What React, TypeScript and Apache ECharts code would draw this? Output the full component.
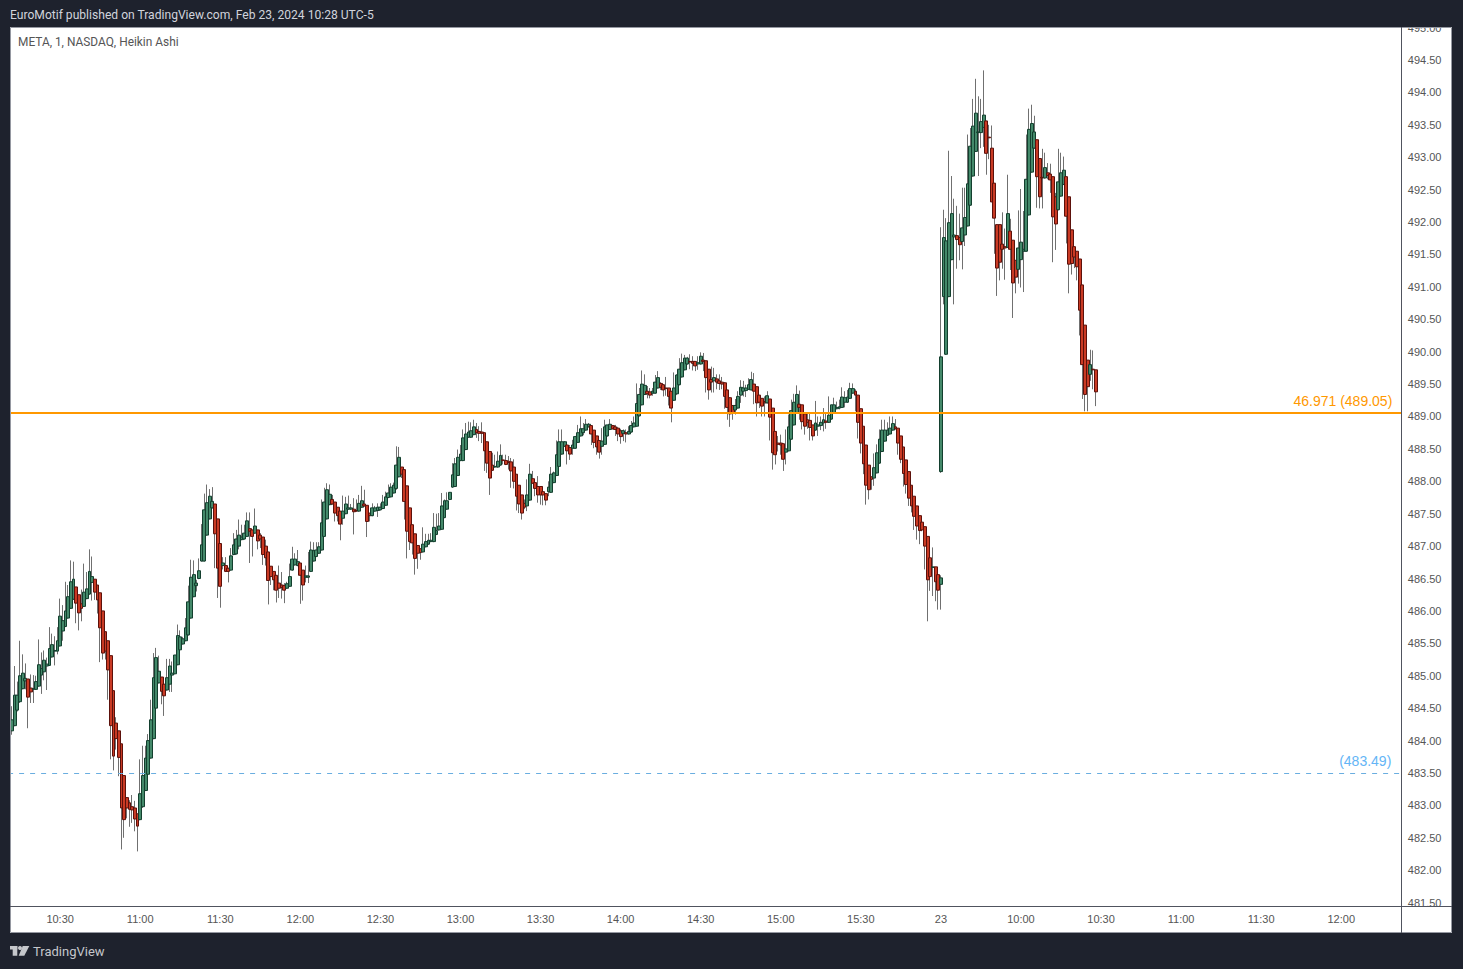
import React, { useEffect, useRef } from "react";
import * as echarts from "echarts";

// Each bar: [open, close, low, high]
const morningBars = [
[484.07,484.23,484.02,484.23],[484.15,484.32,484.09,484.53],[484.23,484.70,484.22,485.15],[484.47,484.70,484.45,484.91],[484.60,485.00,484.58,485.54],
[484.80,485.04,484.79,485.33],[484.92,484.96,484.79,485.19],[484.95,484.67,484.19,484.95],[484.81,484.75,484.58,485.02],[484.79,484.80,484.58,485.01],
[484.79,484.91,484.78,485.00],[484.84,485.17,484.83,485.56],[485.01,485.11,484.72,485.36],[485.06,485.24,484.93,485.39],[485.15,485.18,484.78,485.28],
[485.16,485.42,485.15,485.75],[485.29,485.48,485.28,485.65],[485.38,485.39,485.16,485.61],[485.38,485.54,485.33,485.75],[485.46,485.92,485.45,486.19],
[485.69,485.85,485.54,486.09],[485.76,486.00,485.75,486.45],[485.89,486.22,485.88,486.40],[486.04,486.45,486.03,486.78],[486.18,486.49,486.17,486.76],
[486.37,486.12,485.81,486.37],[486.25,485.97,485.70,486.25],[486.11,486.04,485.84,486.33],[486.07,486.29,486.06,486.73],[486.19,486.34,486.18,486.60],
[486.26,486.61,486.25,486.95],[486.44,486.53,486.16,486.84],[486.49,486.29,486.17,486.49],[486.40,486.17,485.96,486.40],[486.28,485.74,485.21,486.28],
[486.00,485.35,485.25,486.00],[485.68,485.38,485.25,485.68],[485.54,485.09,484.63,485.54],[485.31,484.23,483.71,485.31],[484.77,483.76,483.54,484.77],
[484.27,484.03,483.86,484.36],[484.15,483.74,483.45,484.15],[483.95,482.96,482.32,483.95],[483.46,482.78,482.50,483.46],[483.12,482.96,482.80,483.12],
[483.04,482.94,482.67,483.08],[482.98,482.93,482.73,483.16],[482.96,482.79,482.60,483.07],[482.87,482.68,482.29,482.87],[482.78,483.18,482.77,483.71],
[482.98,483.46,482.96,483.92],[483.23,483.73,483.22,483.92],[483.48,484.00,483.47,484.10],[483.73,484.32,483.72,484.63],[484.03,484.97,484.02,485.35],
[484.50,485.28,484.49,485.43],[484.89,485.07,484.88,485.31],[484.98,484.76,484.56,484.98],[484.87,484.69,484.38,484.87],[484.78,484.97,484.77,485.26],
[484.87,485.15,484.75,485.26],[485.01,485.04,484.75,485.22],[485.03,485.32,485.02,485.32],[485.17,485.62,485.16,485.79],[485.40,485.60,485.39,485.70],
[485.49,485.57,485.48,485.60],[485.54,485.74,485.53,485.89],[485.63,486.14,485.62,486.39],[485.89,486.52,485.88,486.79],[486.22,486.56,486.21,486.78],
[486.39,486.43,486.30,486.48],[486.50,486.62,486.49,486.81],[486.77,487.02,486.76,487.34],[486.77,487.56,486.76,487.81],[487.17,487.67,487.16,487.95],
[487.42,487.77,487.41,487.88],[487.59,487.69,487.58,487.91],[487.65,487.19,486.66,487.65],[487.42,486.66,486.20,487.42],[487.04,486.38,486.05,487.04],
[486.70,486.74,486.64,486.83],[486.70,486.61,486.60,486.83],[486.66,486.61,486.44,486.66],[486.63,486.85,486.62,486.97],[486.87,487.02,486.86,487.20],
[486.88,487.11,486.87,487.25],[487.00,487.17,486.95,487.41],[487.10,487.14,487.09,487.33],[487.11,487.20,487.10,487.33],[487.15,487.39,487.14,487.52],
[487.27,487.23,486.74,487.52],[487.25,487.15,486.84,487.25],[487.20,487.31,487.19,487.58],[487.25,487.08,486.95,487.25],[487.17,487.11,486.97,487.20],
[487.14,486.87,486.71,487.14],[487.00,486.82,486.70,487.10],[486.91,486.47,486.10,486.91],[486.69,486.53,486.40,486.69],[486.61,486.48,486.32,486.61],
];

const middayBars = [
[486.55,486.32,486.13,486.55],[486.43,486.35,486.20,486.70],[486.40,486.36,486.19,486.60],[486.39,486.32,486.12,486.43],[486.35,486.42,486.34,486.45],
[486.38,486.53,486.37,486.73],[486.63,486.80,486.62,486.99],[486.71,486.80,486.70,486.89],[486.70,486.76,486.69,486.94],[486.74,486.55,486.11,486.74],
[486.63,486.40,486.16,486.63],[486.52,486.54,486.44,486.70],[486.52,486.54,486.43,486.91],[486.61,486.94,486.60,487.07],[486.77,486.93,486.76,487.06],
[486.84,486.94,486.83,487.06],[486.89,486.99,486.88,487.06],[486.94,487.36,486.93,487.72],[487.15,487.68,487.14,487.90],[487.42,487.87,487.41,487.97],
[487.64,487.80,487.63,487.95],[487.72,487.65,487.64,487.79],[487.68,487.51,487.38,487.68],[487.60,487.47,487.38,487.60],[487.54,487.34,487.09,487.54],
[487.43,487.54,487.33,487.78],[487.50,487.65,487.49,487.76],[487.57,487.59,487.56,487.78],[487.57,487.59,487.56,487.65],[487.57,487.53,487.18,487.74],
[487.55,487.54,487.53,487.72],[487.54,487.66,487.53,487.79],[487.60,487.70,487.59,487.93],[487.65,487.62,487.61,487.87],[487.63,487.38,487.14,487.63],
[487.51,487.47,487.38,487.51],[487.47,487.59,487.46,487.66],[487.54,487.59,487.53,487.62],[487.55,487.60,487.45,487.66],[487.56,487.60,487.55,487.66],
[487.58,487.68,487.57,487.79],[487.63,487.76,487.62,487.84],[487.75,487.82,487.74,487.95],[487.76,487.91,487.75,487.97],[487.82,487.94,487.81,487.98],
[487.89,488.25,487.87,488.54],[488.07,488.37,488.06,488.53],[488.22,488.11,488.05,488.22],[488.18,487.69,487.41,488.18],[487.93,487.23,486.81,487.93],
[487.59,487.07,486.94,487.59],[487.33,487.05,486.87,487.33],[487.19,486.81,486.56,487.19],[487.01,486.89,486.65,487.01],[486.96,486.90,486.79,486.96],
[486.91,487.03,486.90,487.29],[486.99,487.07,486.98,487.19],[487.03,487.09,487.02,487.19],[487.07,487.09,487.06,487.20],[487.07,487.29,487.06,487.51],
[487.18,487.24,487.17,487.50],[487.25,487.31,487.24,487.51],[487.26,487.62,487.25,487.82],[487.44,487.70,487.43,487.72],[487.57,487.70,487.56,487.83],
[487.72,487.83,487.71,487.83],[487.91,488.10,487.90,488.28],[487.92,488.27,487.91,488.36],[488.09,488.37,488.08,488.49],[488.32,488.42,488.31,488.56],
[488.32,488.67,488.31,488.80],[488.49,488.73,488.48,488.90],[488.68,488.76,488.67,488.92],[488.68,488.78,488.67,488.91],[488.72,488.84,488.71,488.95],
[488.80,488.75,488.67,488.90],[488.77,488.74,488.62,488.85],[488.76,488.74,488.59,488.91],[488.75,488.47,488.16,488.75],[488.61,488.28,488.13,488.61],
[488.46,488.05,487.79,488.46],[488.25,488.17,488.16,488.44],[488.22,488.23,488.21,488.41],[488.22,488.31,488.21,488.46],[488.25,488.40,488.24,488.57],
[488.33,488.32,488.26,488.41],[488.32,488.26,488.25,488.41],[488.31,488.29,488.18,488.39],[488.30,488.16,487.90,488.36],[488.22,488.00,487.89,488.34],
[488.11,487.77,487.55,488.11],[487.94,487.65,487.51,487.94],[487.79,487.51,487.41,487.79],[487.66,487.60,487.57,487.72],[487.62,487.79,487.54,488.03],
[487.71,488.11,487.70,488.27],[488.04,487.97,487.96,488.16],[487.98,487.89,487.77,487.98],[487.92,487.79,487.67,488.08],[487.92,487.79,487.64,487.92],
];

const afternoonBars = [
[487.84,487.79,487.63,487.92],[487.81,487.71,487.63,487.81],[487.84,487.91,487.77,488.00],[487.83,488.11,487.82,488.22],[487.98,488.13,487.97,488.15],
[488.09,488.41,488.08,488.63],[488.23,488.61,488.22,488.80],[488.42,488.61,488.41,488.80],[488.54,488.61,488.53,488.62],[488.56,488.47,488.26,488.61],
[488.52,488.42,488.33,488.56],[488.51,488.56,488.41,488.64],[488.51,488.69,488.50,488.70],[488.60,488.75,488.59,488.87],[488.70,488.81,488.69,489.00],
[488.75,488.81,488.71,488.90],[488.79,488.88,488.78,488.96],[488.84,488.88,488.83,488.90],[488.86,488.73,488.56,488.86],[488.79,488.60,488.51,488.79],
[488.70,488.53,488.41,488.70],[488.63,488.45,488.35,488.63],[488.54,488.62,488.41,488.82],[488.57,488.84,488.56,488.95],[488.70,488.87,488.69,488.87],
[488.80,488.88,488.79,488.96],[488.86,488.81,488.80,488.87],[488.84,488.80,488.70,488.87],[488.82,488.73,488.62,488.84],[488.78,488.69,488.58,488.81],
[488.74,488.78,488.62,488.80],[488.75,488.73,488.60,488.80],[488.73,488.77,488.72,488.85],[488.76,488.86,488.75,488.93],[488.84,488.90,488.83,489.00],
[488.85,489.20,488.84,489.51],[489.01,489.34,489.00,489.44],[489.18,489.50,489.17,489.71],[489.34,489.48,489.33,489.65],[489.39,489.35,489.28,489.47],
[489.38,489.33,489.28,489.44],[489.36,489.39,489.32,489.44],[489.36,489.53,489.35,489.64],[489.44,489.60,489.43,489.70],[489.51,489.45,489.41,489.53],
[489.49,489.41,489.31,489.50],[489.44,489.43,489.32,489.61],[489.44,489.31,489.17,489.44],[489.39,489.13,488.91,489.39],[489.25,489.44,489.24,489.68],
[489.35,489.64,489.33,489.65],[489.49,489.73,489.48,489.90],[489.61,489.83,489.60,489.97],[489.72,489.90,489.71,489.95],[489.81,489.90,489.80,489.92],
[489.85,489.84,489.73,489.96],[489.85,489.82,489.71,489.93],[489.85,489.78,489.70,489.85],[489.81,489.83,489.72,489.93],[489.81,489.93,489.80,489.99],
[489.87,489.85,489.70,489.98],[489.86,489.60,489.37,489.86],[489.73,489.41,489.26,489.73],[489.57,489.53,489.37,489.77],[489.55,489.60,489.37,489.75],
[489.58,489.53,489.42,489.65],[489.55,489.51,489.41,489.65],[489.53,489.50,489.42,489.61],[489.52,489.31,489.12,489.53],[489.41,489.14,488.95,489.41],
[489.29,489.04,488.84,489.29],[489.17,489.05,488.95,489.17],[489.10,489.17,489.03,489.27],[489.13,489.31,489.12,489.39],[489.33,489.45,489.21,489.56],
[489.39,489.44,489.31,489.55],[489.40,489.44,489.30,489.49],[489.42,489.49,489.41,489.59],[489.41,489.57,489.40,489.69],[489.50,489.39,489.19,489.67],
[489.46,489.21,489.00,489.46],[489.33,489.22,489.13,489.33],[489.28,489.16,489.00,489.28],[489.23,489.21,489.00,489.31],[489.21,489.32,489.20,489.39],
[489.27,488.99,488.63,489.27],[489.13,488.44,488.18,489.13],[488.77,488.41,488.26,488.77],[488.59,488.57,488.46,488.70],[488.59,488.56,488.41,488.72],
[488.58,488.34,488.16,488.58],[488.45,488.50,488.26,488.80],[488.47,488.84,488.46,489.03],[488.65,489.09,488.64,489.26],[488.87,489.22,488.86,489.35],
[489.05,489.34,489.04,489.48],[489.19,489.14,488.95,489.40],[489.18,488.92,488.80,489.18],[489.04,488.85,488.72,489.04],[488.95,488.91,488.81,489.05],
];

const closingBars = [
[488.94,488.83,488.63,489.05],[488.87,488.70,488.63,488.87],[488.79,488.90,488.78,489.24],[488.85,488.87,488.70,489.00],[488.86,488.91,488.79,489.00],
[488.90,488.95,488.77,489.13],[488.93,488.91,488.81,489.04],[488.91,489.02,488.90,489.31],[488.96,489.18,488.95,489.18],[489.05,489.18,489.04,489.29],
[489.12,489.14,489.11,489.23],[489.13,489.15,489.11,489.26],[489.14,489.30,489.13,489.45],[489.22,489.29,489.14,489.39],[489.22,489.30,489.21,489.41],
[489.28,489.43,489.27,489.52],[489.36,489.43,489.35,489.51],[489.39,489.33,489.08,489.42],[489.33,488.91,488.66,489.33],[489.12,488.59,488.43,489.12],
[488.85,488.27,488.11,488.85],[488.56,487.94,487.64,488.56],[488.25,487.87,487.72,488.25],[488.07,488.03,487.87,488.07],[488.05,488.21,487.93,488.43],
[488.13,488.44,488.12,488.57],[488.28,488.65,488.27,488.80],[488.46,488.79,488.45,488.95],[488.62,488.79,488.61,488.95],[488.71,488.79,488.70,488.91],
[488.73,488.82,488.72,489.00],[488.79,488.89,488.78,489.00],[488.84,488.81,488.80,488.96],[488.82,488.59,488.41,488.82],[488.70,488.34,488.28,488.70],
[488.53,488.12,487.92,488.53],[488.33,487.95,487.81,488.33],[488.15,487.74,487.62,488.15],[487.94,487.62,487.52,487.94],[487.77,487.46,487.25,487.77],
[487.62,487.31,487.10,487.62],[487.47,487.24,487.03,487.47],[487.37,487.25,487.23,487.38],[487.30,487.00,486.64,487.30],[487.15,486.48,485.84,487.15],
[486.82,486.53,486.31,486.98],[486.67,486.68,486.23,486.98],[486.68,486.45,486.15,486.68],[486.56,486.32,486.02,486.61],
];

const nextDayBars = [
[488.15,489.92,488.13,491.92],[490.85,491.76,490.73,492.19],[489.96,491.71,489.95,492.06],[490.85,491.99,490.84,493.10],[491.42,492.13,491.41,492.71],
[491.77,491.80,490.73,492.36],[491.79,491.73,491.28,492.25],[491.76,491.65,491.41,492.13],[491.70,491.91,491.27,492.53],[491.80,492.07,491.63,492.53],
[491.94,492.59,491.93,493.35],[492.26,493.17,492.25,493.45],[492.71,493.48,492.70,493.90],[493.09,493.68,493.08,494.21],[493.38,493.39,492.71,493.94],
[493.38,493.55,493.14,493.90],[493.46,493.65,493.16,494.34],[493.56,493.06,492.73,493.56],[493.31,493.30,492.97,493.50],[493.14,492.31,492.31,493.49],
[492.60,492.06,491.51,492.60],[491.96,491.29,490.86,491.96],[491.96,491.38,491.10,491.96],[491.66,491.58,491.28,492.15],[491.62,491.60,491.11,491.90],
[491.61,492.13,491.60,492.73],[491.86,491.58,491.26,492.05],[491.72,491.06,490.52,491.72],[491.41,491.15,490.90,491.41],[491.27,491.60,491.05,492.18],
[491.42,491.69,490.99,492.51],[491.55,491.58,490.92,492.17],[491.55,492.66,491.54,493.35],[492.11,493.43,492.10,493.75],[492.77,493.52,492.76,493.81],
[493.14,493.39,493.13,493.64],[493.27,492.70,492.22,493.27],[492.98,492.39,492.21,492.98],[492.69,492.68,492.21,493.13],[492.68,492.84,492.67,493.07],
[492.76,492.72,492.66,492.91],[492.74,492.65,492.45,492.90],[492.70,492.08,491.38,492.70],[492.39,491.97,491.57,492.45],[492.19,492.62,492.18,493.13],
[492.40,492.76,492.39,493.07],[492.58,492.80,492.57,493.01],[492.70,492.09,491.67,492.70],[492.39,491.35,490.90,492.39],[491.88,491.36,491.19,491.88],
[491.62,491.46,491.29,491.62],[491.55,491.31,491.10,491.55],[491.43,490.64,490.25,491.43],[491.03,489.80,489.27,491.03],[490.41,489.34,489.08,490.41],
[489.87,489.46,489.08,489.87],[489.65,489.80,489.55,490.03],[489.73,489.72,489.42,490.02],[489.72,489.38,489.16,489.72],
];

const lastCloseBar = [486.41, 486.51, 486.02, 486.55];

const yTicks = [481.5, 495, 0.5];
const timeLabels = ["10:30","11:00","11:30","12:00","12:30","13:00","13:30","14:00","14:30","15:00","15:30"];
const laterLabels = ["10:00","10:30","11:00","11:30","12:00"];
const sessionOneStart = [10, 11];
const sessionOneCount = 349;
const sessionTwoStart = [9, 30];
const totalSlots = 522;
const orangeLevel = 489.05;
const blueLevel = 483.49;

const BG = "#1e222d";

function fmt(h: number, m: number) {
  return `${h}:${String(m).padStart(2, "0")}`;
}

export default function App() {
  const ref = useRef<HTMLDivElement>(null);

  useEffect(() => {
    document.body.style.margin = "0";
    const chart = echarts.init(ref.current!, undefined, { renderer: "svg" });

    const bars = [...morningBars, ...middayBars, ...afternoonBars, ...closingBars, ...nextDayBars];
    const categories: string[] = [];
    const shown = new Set<number>();
    for (let i = 0; i < totalSlots; i++) {
      if (i < sessionOneCount) {
        const t = sessionOneStart[0] * 60 + sessionOneStart[1] + i;
        const s = fmt(Math.floor(t / 60), t % 60);
        categories.push(s);
        if (timeLabels.includes(s)) shown.add(i);
      } else if (i === sessionOneCount) {
        categories.push("23");
        shown.add(i);
      } else {
        const t = sessionTwoStart[0] * 60 + sessionTwoStart[1] + (i - sessionOneCount);
        const s = fmt(Math.floor(t / 60), t % 60);
        categories.push(s);
        if (laterLabels.includes(s)) shown.add(i);
      }
    }

    const bodies = bars.map(([o, c]) => [o, c, Math.min(o, c), Math.max(o, c)]);
    const wickColor = "#707070";
    const upFill = "#44896a";
    const upEdge = "#133f2e";
    const downFill = "#c93a24";
    const downEdge = "#5c110b";
    const pointEncode = { x: 0, y: [1, 2, 3, 4] };

    const option: any = {
      animation: false,
      backgroundColor: BG,
      grid: { left: 8.1, top: 27.6, width: 1393.2, height: 875, containLabel: false },
      xAxis: {
        type: "category",
        data: categories,
        boundaryGap: true,
        z: 5,
        axisLine: { show: false },
        axisTick: { show: false },
        splitLine: { show: false },
        axisLabel: {
          interval: (i: number) => shown.has(i),
          color: "#555555",
          fontSize: 11,
          fontFamily: "Liberation Sans",
          margin: 11,
          hideOverlap: false,
        },
      },
      yAxis: {
        type: "value",
        position: "right",
        min: yTicks[0],
        max: yTicks[1],
        interval: yTicks[2],
        z: 5,
        axisLine: { show: false },
        axisTick: { show: false },
        splitLine: { show: false },
        axisLabel: {
          color: "#555555",
          fontSize: 11,
          fontFamily: "Liberation Sans",
          margin: 6.5,
          formatter: (v: number) => v.toFixed(2),
        },
      },
      graphic: [
        { type: "rect", z: -10, silent: true, shape: { x: 10, y: 27, width: 1442, height: 906 }, style: { fill: "#ffffff" } },
        { type: "rect", z: 100, silent: true, shape: { x: 0, y: 0, width: 1463, height: 27 }, style: { fill: BG } },
        { type: "rect", z: 100, silent: true, shape: { x: 0, y: 0, width: 10, height: 969 }, style: { fill: BG } },
        { type: "rect", z: 100, silent: true, shape: { x: 1402, y: 906.5, width: 50, height: 26 }, style: { fill: "#ffffff" } },
        { type: "rect", z: 101, silent: true, shape: { x: 10.5, y: 27.5, width: 1441, height: 905 }, style: { fill: "none", stroke: "#9598a1", lineWidth: 1 } },
        { type: "line", z: 101, silent: true, shape: { x1: 1401.5, y1: 27, x2: 1401.5, y2: 933 }, style: { stroke: "#50535e", lineWidth: 1 } },
        { type: "line", z: 101, silent: true, shape: { x1: 10, y1: 906.5, x2: 1452, y2: 906.5 }, style: { stroke: "#50535e", lineWidth: 1 } },
        {
          type: "text", z: 102, x: 10, y: 15, silent: true,
          style: { text: "EuroMotif published on TradingView.com, Feb 23, 2024 10:28 UTC-5", fill: "#d1d4dc", font: "12.1px Roboto", textVerticalAlign: "middle" },
        },
        {
          type: "text", z: 102, x: 18, y: 42, silent: true,
          style: { text: "META, 1, NASDAQ, Heikin Ashi", fill: "#555555", font: "11.9px Roboto", textVerticalAlign: "middle" },
        },
        { type: "rect", z: 102, silent: true, shape: { x: 10, y: 946, width: 7.3, height: 3.4 }, style: { fill: "#c5c7cb" } },
        { type: "rect", z: 102, silent: true, shape: { x: 12.7, y: 946, width: 4.6, height: 9.7 }, style: { fill: "#c5c7cb" } },
        { type: "circle", z: 102, silent: true, shape: { cx: 20, cy: 948, r: 2 }, style: { fill: "#c5c7cb" } },
        { type: "polygon", z: 102, silent: true, shape: { points: [[22.7, 946], [29.3, 946], [24.3, 955.7], [18.7, 955.7]] }, style: { fill: "#c5c7cb" } },
        {
          type: "text", z: 102, x: 33, y: 951.5, silent: true,
          style: { text: "TradingView", fill: "#c5c7cb", font: "13px Roboto", textVerticalAlign: "middle" },
        },
      ],
      series: [
        {
          name: "levels",
          type: "line",
          z: 1,
          data: [],
          silent: true,
          markLine: {
            silent: true,
            symbol: "none",
            animation: false,
            data: [
              {
                yAxis: orangeLevel,
                lineStyle: { color: "#ff9800", width: 2, type: "solid" },
                label: {
                  position: "insideEndTop",
                  formatter: "46.971 (489.05)",
                  color: "#ff9800",
                  fontSize: 14,
                  fontFamily: "Liberation Sans",
                  padding: [0, 4, 0, 0],
                  distance: 5,
                },
              },
              {
                yAxis: blueLevel,
                lineStyle: { color: "#6aaee0", width: 1, type: [5, 6] },
                label: {
                  position: "insideEndTop",
                  formatter: "(483.49)",
                  color: "#64b5f6",
                  fontSize: 14,
                  fontFamily: "Liberation Sans",
                  padding: [0, 4, 0, 0],
                  distance: 6,
                },
              },
            ],
          },
        },
        {
          name: "wicks",
          type: "candlestick",
          z: 3,
          barWidth: 1,
          silent: true,
          data: bars,
          itemStyle: { color: wickColor, color0: wickColor, borderColor: wickColor, borderColor0: wickColor, borderWidth: 1 },
        },
        {
          name: "lastCloseWick",
          type: "candlestick",
          z: 3,
          barWidth: 1,
          silent: true,
          encode: pointEncode,
          data: [[sessionOneCount, ...lastCloseBar]],
          itemStyle: { color: wickColor, color0: wickColor, borderColor: wickColor, borderColor0: wickColor, borderWidth: 1 },
        },
        {
          name: "bodies",
          type: "candlestick",
          z: 4,
          barWidth: 3.4,
          silent: true,
          data: bodies,
          itemStyle: { color: upFill, color0: downFill, borderColor: upEdge, borderColor0: downEdge, borderWidth: 1 },
        },
        {
          name: "lastCloseBody",
          type: "candlestick",
          z: 4,
          barWidth: 3.4,
          silent: true,
          encode: pointEncode,
          data: [[sessionOneCount, lastCloseBar[0], lastCloseBar[1], lastCloseBar[0], lastCloseBar[1]]],
          itemStyle: { color: upFill, color0: downFill, borderColor: upEdge, borderColor0: downEdge, borderWidth: 1 },
        },
      ],
    };
    chart.setOption(option);
    return () => chart.dispose();
  }, []);

  return <div ref={ref} style={{ position: "absolute", left: 0, top: 0, width: 1463, height: 969 }} />;
}
